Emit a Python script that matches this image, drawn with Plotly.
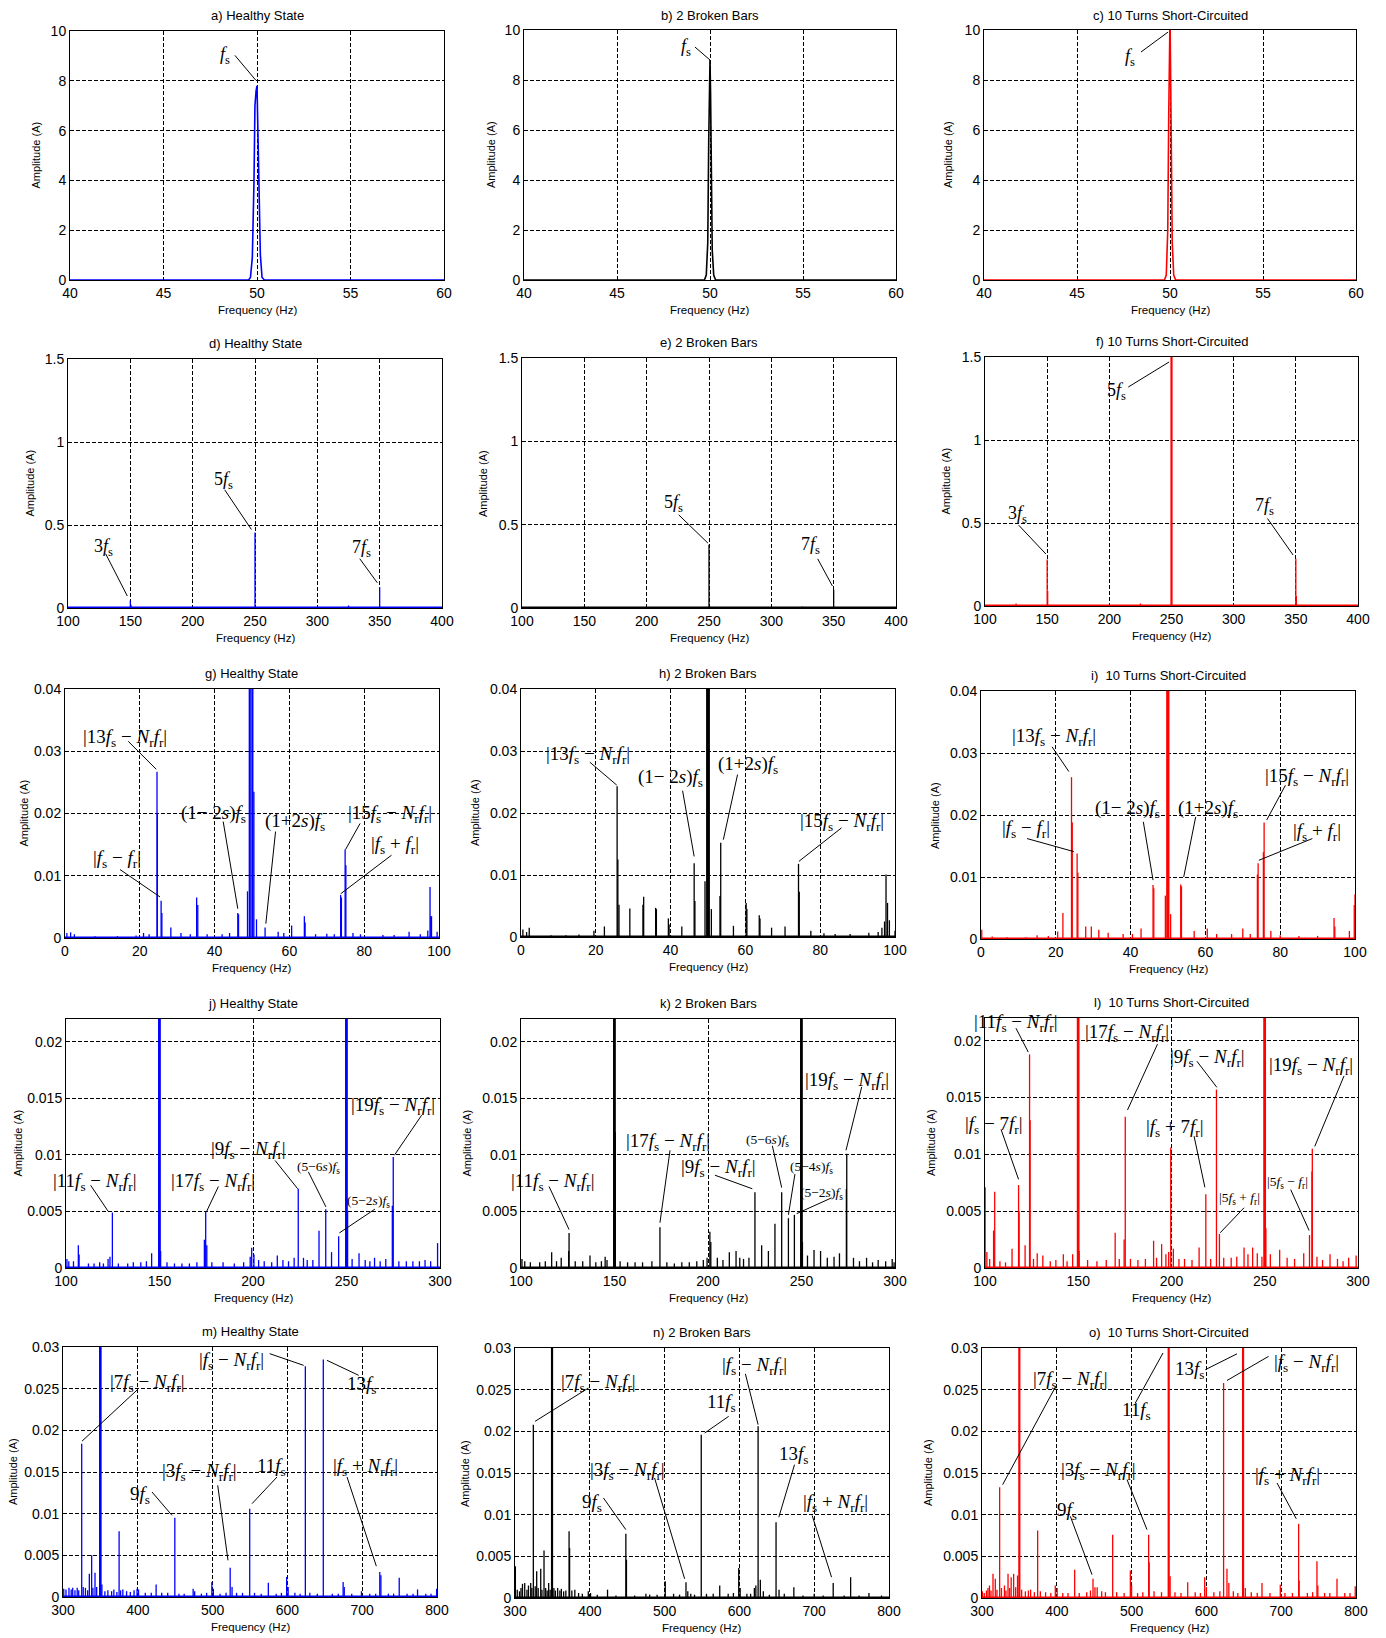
import plotly.graph_objects as go

# ------------------------------------------------------------------ data
a_freq = [40, 49.55, 49.65, 49.75, 49.84, 49.89, 49.95, 50.0, 50.04, 50.1, 50.18, 50.27, 50.4, 60]
a_amp = [0, 0, 0.1, 0.9, 4.0, 7.0, 7.6, 7.8, 6.3, 3.4, 1.0, 0.1, 0, 0]
b_freq = [40, 49.7, 49.8, 49.88, 49.93, 49.97, 50.0, 50.03, 50.07, 50.12, 50.2, 50.3, 60]
b_amp = [0, 0, 0.2, 1.5, 5.5, 7.6, 8.8, 7.5, 4.0, 1.2, 0.2, 0, 0]
c_freq = [40, 49.7, 49.8, 49.88, 49.93, 49.97, 50.0, 50.03, 50.07, 50.12, 50.2, 50.3, 60]
c_amp = [0, 0, 0.2, 2.0, 6.5, 8.7, 10.5, 8.5, 4.5, 1.5, 0.2, 0, 0]

d_peaks = [(125, 0.004), (150, 0.045), (150.5, 0.02), (250, 0.455), (325, 0.015), (350, 0.125)]
e_peaks = [(150, 0.01), (250, 0.38), (325, 0.008), (350, 0.11)]
f_peaks = [(125, 0.015), (150, 0.28), (150.4, 0.09), (225, 0.015), (250, 1.6), (350, 0.285), (350.4, 0.06)]

g_peaks = [(0.5, 0.0008), (1.5, 0.0009), (2.5, 0.0006), (8, 0.0003), (14, 0.0003), (19, 0.0004),
           (21, 0.0008), (22.5, 0.0006), (24.6, 0.0267), (24.7, 0.02), (25.7, 0.006), (25.9, 0.004),
           (28.3, 0.0017), (31, 0.0008), (33.5, 0.0006), (35.2, 0.0065), (35.5, 0.0053), (38, 0.0006),
           (42, 0.0006), (44, 0.0008), (46.2, 0.004), (46.4, 0.0038), (48.8, 0.0075), (49.4, 0.06),
           (50.1, 0.06), (50.5, 0.0235), (51.2, 0.003), (53.5, 0.0017), (57, 0.001), (58.5, 0.0008),
           (60.6, 0.002), (64.0, 0.0035), (64.2, 0.0025), (67, 0.0006), (70, 0.0007), (72, 0.0006),
           (73.7, 0.0069), (73.9, 0.0065), (74.9, 0.0142), (75.1, 0.0117), (77, 0.0008), (79, 0.0006),
           (85, 0.0005), (88, 0.0005), (92, 0.001), (95, 0.0006), (97.0, 0.0012), (97.6, 0.0082),
           (97.8, 0.0035), (98.0, 0.0035), (99.5, 0.001)]
h_peaks = [(0.5, 0.0012), (1.5, 0.0008), (2.2, 0.0015), (8, 0.0003), (12, 0.0003), (15.5, 0.0004),
           (19.5, 0.001), (22.3, 0.0017), (25.7, 0.0243), (25.9, 0.0125), (26.2, 0.0052), (29.1, 0.0046),
           (32.6, 0.0052), (32.8, 0.0065), (36.0, 0.0047), (36.2, 0.0045), (39.4, 0.003), (39.6, 0.002),
           (43, 0.0017), (46.3, 0.0119), (46.5, 0.0058), (49.2, 0.009), (49.8, 0.06), (49.9, 0.06),
           (50.0, 0.06), (50.1, 0.06), (50.2, 0.06), (50.9, 0.0045), (53.2, 0.0066), (53.4, 0.0152),
           (56.8, 0.0018), (60.2, 0.0055), (60.4, 0.0045), (63.7, 0.0035), (63.9, 0.003), (67, 0.0015),
           (70.6, 0.0017), (74.2, 0.0118), (74.4, 0.0073), (77.5, 0.001), (81, 0.0006), (84, 0.0005),
           (88, 0.0005), (93, 0.0007), (95.5, 0.0008), (96.5, 0.0015), (97.2, 0.0025), (97.6, 0.0101),
           (98.0, 0.0055), (98.5, 0.0027), (100, 0.001)]
i_peaks = [(0.2, 0.0015), (3, 0.0004), (7, 0.0003), (12, 0.0003), (15, 0.0006), (18, 0.0005),
           (20.5, 0.0012), (21.9, 0.0042), (24.2, 0.0261), (24.4, 0.0188), (25.7, 0.0138), (25.9, 0.0107),
           (28, 0.002), (29.5, 0.002), (31.5, 0.0015), (34, 0.001), (38, 0.0008), (40.5, 0.0008),
           (42.8, 0.0017), (46.0, 0.0087), (46.2, 0.0082), (49.3, 0.007), (49.8, 0.06), (50.1, 0.06),
           (50.7, 0.004), (53.4, 0.0088), (53.6, 0.0085), (57, 0.0013), (60.5, 0.0017), (63, 0.0008),
           (67, 0.0008), (70, 0.0017), (72, 0.0008), (73.9, 0.0104), (74.1, 0.0122), (75.5, 0.014),
           (75.7, 0.0188), (77.5, 0.0013), (80, 0.0006), (85, 0.0005), (90, 0.0005), (94.4, 0.0034),
           (94.6, 0.002), (98.5, 0.0013), (99.8, 0.0055), (100, 0.0072)]

j_peaks = [(100.5, 0.0008), (101.5, 0.0006), (104, 0.0006), (106.6, 0.002), (107, 0.0012), (112, 0.0004),
           (115, 0.0004), (118, 0.0005), (120, 0.0004), (122.5, 0.0008), (123.5, 0.001), (124.8, 0.0049),
           (128, 0.0004), (133, 0.0004), (136, 0.0005), (140, 0.0005), (143, 0.0006), (145.8, 0.0013),
           (149.8, 0.03), (150.1, 0.03), (150.6, 0.0015), (154, 0.0005), (158, 0.0004), (162, 0.0004),
           (166, 0.0004), (170, 0.0005), (174.0, 0.0025), (174.7, 0.005), (175.3, 0.002), (178, 0.0005),
           (184, 0.0005), (190, 0.0004), (195, 0.0005), (198.5, 0.001), (199.3, 0.0018), (200.5, 0.0012),
           (203, 0.0007), (206, 0.0006), (210, 0.0005), (213, 0.0011), (216, 0.0007), (219, 0.0006),
           (222, 0.0009), (224.2, 0.007), (227, 0.0009), (229, 0.0007), (232, 0.0007), (235.3, 0.0033),
           (238.9, 0.0052), (242, 0.0014), (245.8, 0.0028), (249.8, 0.03), (250.1, 0.03), (250.6, 0.005),
           (253, 0.0008), (256.7, 0.0013), (260, 0.0007), (262.5, 0.0006), (265, 0.0009), (268, 0.0006),
           (271, 0.0008), (274.5, 0.0055), (275.0, 0.0098), (278, 0.0006), (282, 0.0006), (285.5, 0.0006),
           (289, 0.0006), (292, 0.0007), (295, 0.0006), (298.7, 0.0022)]
k_peaks = [(100.5, 0.0008), (102, 0.0006), (105, 0.0005), (110, 0.0005), (113, 0.0006), (116.4, 0.0014),
           (119, 0.0006), (121.5, 0.0009), (125.5, 0.0015), (125.7, 0.0031), (129, 0.0006), (133, 0.0006),
           (136.9, 0.0011), (140, 0.0005), (143, 0.0006), (145, 0.001), (146, 0.0007), (149.8, 0.03),
           (150.1, 0.03), (150.4, 0.012), (153, 0.0006), (157, 0.0005), (161, 0.0005), (165, 0.0005),
           (170, 0.0006), (174.3, 0.0036), (178, 0.0005), (182, 0.0004), (186, 0.0005), (190, 0.0005),
           (194, 0.0006), (197.5, 0.0007), (199.5, 0.0009), (201, 0.0032), (201.5, 0.0023), (205, 0.0009),
           (208, 0.0007), (211.4, 0.0014), (215, 0.0015), (217, 0.0009), (219, 0.0008), (221.9, 0.0009),
           (225.1, 0.0067), (228.7, 0.002), (232.3, 0.0015), (235.8, 0.0039), (239.4, 0.0067), (243, 0.0044),
           (246.2, 0.0047), (249.8, 0.03), (250.1, 0.03), (250.5, 0.0023), (253.2, 0.0011), (256.7, 0.0016),
           (260.2, 0.0015), (263.8, 0.0009), (267.4, 0.001), (270.3, 0.0013), (274.0, 0.007), (274.2, 0.0101),
           (277.8, 0.0009), (281, 0.0006), (284.8, 0.0009), (288, 0.0005), (291, 0.0007), (295, 0.0006),
           (298.5, 0.0008), (299.5, 0.0005)]
l_peaks = [(100.1, 0.0071), (101, 0.0014), (102.5, 0.0008), (104.6, 0.0033), (105.2, 0.0067), (108, 0.0006),
           (111, 0.0005), (114.5, 0.0017), (118, 0.0073), (118.3, 0.005), (121.5, 0.002), (123.9, 0.0188),
           (124.2, 0.013), (126, 0.0008), (128, 0.0013), (131, 0.0011), (135, 0.0006), (138, 0.0007),
           (142, 0.0012), (144, 0.0006), (147, 0.0012), (149.8, 0.03), (150.1, 0.03), (150.5, 0.0015),
           (155, 0.0007), (160, 0.0006), (165, 0.0007), (169.8, 0.0031), (172, 0.0008), (174.6, 0.0025),
           (175.2, 0.0133), (178, 0.0008), (182, 0.0007), (186, 0.0008), (190.4, 0.0024), (192, 0.0009),
           (194.7, 0.0021), (197, 0.0012), (198.5, 0.0014), (199.6, 0.0106), (201, 0.0017), (204, 0.0008),
           (207, 0.0008), (211, 0.0007), (214.8, 0.0018), (218.4, 0.0065), (221, 0.0008), (224.1, 0.0157),
           (225.7, 0.003), (228, 0.0009), (232, 0.0009), (235, 0.001), (238.9, 0.0018), (241, 0.0012),
           (243.5, 0.0018), (246, 0.0013), (248.5, 0.001), (249.8, 0.03), (250.1, 0.03), (250.6, 0.0035),
           (253, 0.0012), (258, 0.0016), (262, 0.0009), (266, 0.0008), (270.9, 0.0013), (274.0, 0.0029),
           (275.3, 0.0085), (275.5, 0.0105), (278, 0.001), (281, 0.0007), (285, 0.0012), (289, 0.0008),
           (292, 0.0006), (295, 0.0009), (299, 0.0011)]

m_peaks = [(301, 0.001), (304, 0.0009), (308, 0.0011), (311, 0.0009), (313, 0.0011), (316, 0.0008),
           (319, 0.0011), (321, 0.0008), (325, 0.0184), (327, 0.0012), (330, 0.0011), (333, 0.0008),
           (335.2, 0.0028), (338.3, 0.005), (340, 0.0011), (342.8, 0.0029), (345, 0.0012), (349.6, 0.032),
           (350.1, 0.032), (352, 0.0015), (356, 0.0007), (360, 0.0008), (365, 0.0007), (368, 0.0009),
           (372, 0.0006), (375, 0.0079), (377, 0.0008), (380, 0.0009), (385, 0.0007), (390, 0.0006),
           (395, 0.0008), (399, 0.001), (401, 0.0009), (410, 0.0005), (418, 0.0005), (424.5, 0.0015),
           (432, 0.0005), (440, 0.0005), (449.5, 0.0095), (455, 0.0004), (462, 0.0004), (474, 0.001),
           (476, 0.0007), (485, 0.0004), (492, 0.0005), (499, 0.0018), (501, 0.001), (510, 0.0004),
           (518, 0.0005), (523.5, 0.0035), (526, 0.0012), (532, 0.0005), (540, 0.0005), (549.6, 0.0106),
           (556, 0.0005), (565, 0.0004), (574.5, 0.0017), (585, 0.0004), (592, 0.0005), (599, 0.0024),
           (601, 0.0012), (610, 0.0005), (617, 0.0004), (624, 0.0277), (630, 0.0005), (640, 0.0004),
           (648, 0.0285), (660, 0.0004), (668, 0.0004), (674.5, 0.0018), (676, 0.0012), (686, 0.0004),
           (699, 0.0007), (710, 0.0004), (718, 0.0004), (723.5, 0.003), (725, 0.0026), (735, 0.0004),
           (742, 0.0004), (749.5, 0.0023), (760, 0.0004), (768, 0.0004), (774, 0.0009), (785, 0.0004),
           (792, 0.0004), (799.5, 0.001)]
n_peaks = [(300.5, 0.0038), (303, 0.001), (306, 0.0008), (308, 0.0012), (310, 0.0017), (313, 0.0018),
           (316, 0.001), (318, 0.0015), (321, 0.0018), (322.5, 0.0012), (324.5, 0.0208), (327, 0.0014),
           (329, 0.0032), (331, 0.0012), (334.4, 0.0035), (336, 0.001), (338.8, 0.0057), (341, 0.0012),
           (343, 0.0009), (345, 0.0018), (347, 0.001), (349.5, 0.032), (352, 0.0012), (354, 0.0009),
           (357, 0.0012), (360, 0.0009), (362, 0.0011), (365, 0.0008), (368, 0.0009), (372.3, 0.008),
           (373, 0.006), (376, 0.0009), (380, 0.001), (385, 0.0006), (390, 0.0005), (398, 0.0008),
           (401, 0.0006), (410, 0.0004), (423.7, 0.001), (435, 0.0003), (448.2, 0.0077), (449, 0.0046),
           (460, 0.0003), (475, 0.0005), (480, 0.0004), (490, 0.0004), (500.9, 0.002), (512, 0.0005),
           (520, 0.0004), (528.6, 0.0019), (531, 0.0008), (535, 0.0005), (540, 0.0004), (549, 0.0196),
           (556, 0.0005), (565, 0.0005), (573.7, 0.0015), (585, 0.0005), (592, 0.0006), (599.1, 0.0036),
           (601, 0.0012), (610, 0.0005), (615, 0.0005), (620, 0.0012), (622, 0.0015), (625, 0.0206),
           (628, 0.0022), (632, 0.0008), (640, 0.0004), (649, 0.0091), (653, 0.001), (660, 0.0005),
           (672.8, 0.0013), (685, 0.0003), (700, 0.0005), (712, 0.0003), (725.4, 0.0018), (740, 0.0003),
           (748.7, 0.0025), (760, 0.0003), (773.2, 0.0006), (790, 0.0003)]
o_peaks = [(300.5, 0.0008), (303, 0.0006), (306, 0.0009), (308, 0.0012), (310, 0.0015), (312, 0.0009),
           (314.7, 0.0029), (317.8, 0.0023), (320, 0.001), (323.6, 0.0133), (326, 0.0012), (330, 0.0015),
           (332, 0.0009), (334.8, 0.0029), (337, 0.0012), (339, 0.0025), (342.3, 0.0029), (345, 0.0013),
           (347.5, 0.0027), (349.9, 0.032), (353, 0.001), (358, 0.0008), (362, 0.0009), (365, 0.001),
           (370, 0.0007), (374.4, 0.0081), (378, 0.0008), (385, 0.0007), (392, 0.0006), (398, 0.0015),
           (400.5, 0.0012), (408, 0.0006), (415, 0.0006), (423.9, 0.0034), (430, 0.0006), (440, 0.0007),
           (445, 0.0009), (448.4, 0.0023), (451, 0.0013), (454, 0.0013), (460, 0.0008), (465, 0.0007),
           (474.7, 0.0076), (480, 0.0007), (490, 0.0006), (498.3, 0.0033), (500, 0.0015), (508, 0.0006),
           (515, 0.0007), (522.8, 0.0076), (523.5, 0.0043), (530, 0.0008), (540, 0.0007), (549.6, 0.032),
           (551.5, 0.0026), (558, 0.0007), (566, 0.0006), (575, 0.0019), (585, 0.0007), (592, 0.0006),
           (597.7, 0.0025), (600, 0.0013), (610, 0.0007), (618, 0.0008), (623, 0.0258), (627.5, 0.0035),
           (630, 0.0018), (636, 0.0008), (642, 0.0006), (649, 0.032), (652, 0.0012), (660, 0.0007),
           (668, 0.0006), (674.3, 0.0018), (685, 0.0006), (698.8, 0.0016), (705, 0.0006), (715, 0.0006),
           (723.3, 0.0089), (724, 0.0021), (735, 0.0006), (742, 0.0007), (747.8, 0.0044), (749, 0.0015),
           (758, 0.0006), (765, 0.0006), (774.6, 0.0023), (785, 0.0006), (792, 0.0006), (799, 0.0014)]

row1_xticks = [40, 45, 50, 55, 60]
row1_yticks = [0, 2, 4, 6, 8, 10]
row2_xticks = [100, 150, 200, 250, 300, 350, 400]
row2_yticks = [0, 0.5, 1, 1.5]
row2_ytext = ["0", "0.5", "1", "1.5"]
row3_xticks = [0, 20, 40, 60, 80, 100]
row3_yticks = [0, 0.01, 0.02, 0.03, 0.04]
row3_ytext = ["0", "0.01", "0.02", "0.03", "0.04"]
row4_xticks = [100, 150, 200, 250, 300]
row4_yticks = [0, 0.005, 0.01, 0.015, 0.02]
row4_ytext = ["0", "0.005", "0.01", "0.015", "0.02"]
row5_xticks = [300, 400, 500, 600, 700, 800]
row5_yticks = [0, 0.005, 0.01, 0.015, 0.02, 0.025, 0.03]
row5_ytext = ["0", "0.005", "0.01", "0.015", "0.02", "0.025", "0.03"]

titles = {
    "a": "a) Healthy State", "b": "b) 2 Broken Bars", "c": "c) 10 Turns Short-Circuited",
    "d": "d) Healthy State", "e": "e) 2 Broken Bars", "f": "f) 10 Turns Short-Circuited",
    "g": "g) Healthy State", "h": "h) 2 Broken Bars", "i": "i)\u00a0 10 Turns Short-Circuited",
    "j": "j) Healthy State", "k": "k) 2 Broken Bars", "l": "l)\u00a0 10 Turns Short-Circuited",
    "m": "m) Healthy State", "n": "n) 2 Broken Bars", "o": "o)\u00a0 10 Turns Short-Circuited",
}

# ------------------------------------------------------------------ styling / layout
W, H = 1386, 1638
PAGE_OFF = 8  # the page body margin shifts the figure by this many pixels
BLUE, BLACK, RED = "#0000FF", "#000000", "#FF0000"
colors = {}
for r in ["abc", "def", "ghi", "jkl", "mno"]:
    colors[r[0]], colors[r[1]], colors[r[2]] = BLUE, BLACK, RED

# target screen rectangles (left, right, top, bottom) in px
POS = {
    "a": (70, 444, 31, 280), "b": (524, 896, 30, 280), "c": (984, 1356, 30, 280),
    "d": (68, 442, 359, 608), "e": (522, 896, 358, 608), "f": (985, 1358, 357, 606),
    "g": (65, 439, 689, 938), "h": (521, 895, 689, 937), "i": (981, 1355, 691, 939),
    "j": (66, 440, 1019, 1268), "k": (521, 895, 1019, 1268), "l": (985, 1358, 1018, 1268),
    "m": (63, 437, 1347, 1597), "n": (515, 889, 1348, 1598), "o": (982, 1356, 1348, 1598),
}
TITLE_GAP = {k: 16 for k in POS}
TITLE_GAP.update({"a": 15, "b": 14, "c": 14})
YTITLE_OFF = {"a": 34, "b": 33, "c": 36, "d": 39, "e": 39, "f": 40, "g": 42, "h": 46, "i": 46,
              "j": 49, "k": 55, "l": 54, "m": 50, "n": 50, "o": 54}

ROWS = {
    1: dict(xr=[40, 60], yr=[0, 10], xt=row1_xticks, yt=row1_yticks,
            ytt=[str(v) for v in row1_yticks]),
    2: dict(xr=[100, 400], yr=[0, 1.5], xt=row2_xticks, yt=row2_yticks, ytt=row2_ytext),
    3: dict(xr=[0, 100], yr=[0, 0.04], xt=row3_xticks, yt=row3_yticks, ytt=row3_ytext),
    4: dict(xr=[100, 300], yr=[0, 0.022], xt=row4_xticks, yt=row4_yticks, ytt=row4_ytext),
    5: dict(xr=[300, 800], yr=[0, 0.03], xt=row5_xticks, yt=row5_yticks, ytt=row5_ytext),
}

LINES = {"a": (a_freq, a_amp), "b": (b_freq, b_amp), "c": (c_freq, c_amp)}
PEAKS = {"d": d_peaks, "e": e_peaks, "f": f_peaks, "g": g_peaks, "h": h_peaks, "i": i_peaks,
         "j": j_peaks, "k": k_peaks, "l": l_peaks, "m": m_peaks, "n": n_peaks, "o": o_peaks}

FS = "<i>f</i><sub>s</sub>"
FR = "<i>f</i><sub>r</sub>"
NR = "<i>N</i><sub>r</sub>"


def absn(k):
    return f"|{k}{FS} \u2212 {NR}{FR}|"


S1M2 = f"(1\u2212 2<i>s</i>){FS}"
S1P2 = f"(1+2<i>s</i>){FS}"
FSMFR = f"|{FS} \u2212 {FR}|"
FSPFR = f"|{FS} + {FR}|"
FSMNR = f"|{FS} \u2212 {NR}{FR}|"
FSPNR = f"|{FS} + {NR}{FR}|"


def s5(k):
    return f"(5\u2212{k}<i>s</i>){FS}"


BIG, MID, SMALL = 19, 18, 13.5
LABELS = {
    "a": [(FS, 48.28, 9.02, MID, 48.82, 9.02, 49.94, 8.02)],
    "b": [(FS, 48.7, 9.3, MID, 49.19, 9.32, 50.0, 8.8)],
    "c": [(FS, 47.85, 8.9, MID, 48.44, 9.12, 49.9, 9.92)],
    "d": [("3" + FS, 128.1, 0.367, MID, 130.2, 0.327, 147.6, 0.072),
          ("5" + FS, 224.9, 0.768, MID, 225.7, 0.712, 247.1, 0.473),
          ("7" + FS, 335.3, 0.357, MID, 334.0, 0.297, 348.1, 0.152)],
    "e": [("5" + FS, 221.5, 0.628, MID, 225.7, 0.559, 249.2, 0.389),
          ("7" + FS, 331.3, 0.377, MID, 337.2, 0.295, 349.0, 0.132)],
    "f": [("5" + FS, 206.1, 1.295, MID, 215.2, 1.319, 248.1, 1.47),
          ("3" + FS, 126.3, 0.553, MID, 127.1, 0.487, 149.0, 0.313),
          ("7" + FS, 324.5, 0.598, MID, 327.2, 0.527, 347.8, 0.307)],
    "g": [(absn(13), 16.1, 0.0322, BIG, 16.9, 0.0316, 24.4, 0.0271),
          (FSMFR, 13.8, 0.0127, BIG, 14.7, 0.011, 25.4, 0.0066),
          (S1M2, 39.8, 0.020, BIG, 42.3, 0.0187, 46.2, 0.0047),
          (S1P2, 61.5, 0.0187, BIG, 56.3, 0.0171, 53.7, 0.0023),
          (absn(15), 86.9, 0.020, BIG, 78.9, 0.0184, 75.0, 0.0142),
          (FSPFR, 88.2, 0.0150, BIG, 87.3, 0.0133, 73.7, 0.0071)],
    "h": [(absn(13), 17.8, 0.0294, BIG, 18.4, 0.0282, 25.6, 0.0245),
          (S1M2, 40.1, 0.0256, BIG, 43.2, 0.0236, 46.3, 0.013),
          (S1P2, 60.6, 0.0278, BIG, 57.9, 0.0262, 54.1, 0.0157),
          (absn(15), 85.7, 0.0186, BIG, 85.7, 0.0176, 74.3, 0.0122)],
    "i": [(absn(13), 19.6, 0.0326, BIG, 19.0, 0.031, 23.5, 0.027),
          (FSMFR, 12.1, 0.0178, BIG, 12.3, 0.0162, 24.8, 0.0141),
          (S1M2, 39.1, 0.0210, BIG, 43.4, 0.0189, 46.0, 0.0095),
          (S1P2, 60.7, 0.0210, BIG, 57.4, 0.0197, 54.2, 0.0100),
          (absn(15), 87.2, 0.0261, BIG, 81.4, 0.0248, 76.4, 0.0192),
          (FSPFR, 89.9, 0.0172, BIG, 88.6, 0.0162, 74.3, 0.0127)],
    "j": [(absn(11), 115.5, 0.0076, BIG, 113.2, 0.0073, 122.6, 0.0050),
          (absn(17), 178.8, 0.0076, BIG, 181.5, 0.0072, 175.2, 0.0050),
          (absn(9), 197.5, 0.0104, BIG, 211.8, 0.0095, 223.9, 0.0070),
          (s5(6), 234.9, 0.0089, SMALL, 229.6, 0.0085, 239.0, 0.0054),
          (s5(2), 261.7, 0.0059, SMALL, 265.2, 0.0052, 246.2, 0.0031),
          (absn(19), 275.0, 0.0143, BIG, 290.2, 0.0135, 275.6, 0.00996)],
    "k": [(absn(11), 116.8, 0.0076, BIG, 115.0, 0.0072, 125.7, 0.0034),
          (absn(17), 178.8, 0.0111, BIG, 179.7, 0.0104, 174.3, 0.0040),
          (absn(9), 205.5, 0.0088, BIG, 203.7, 0.0082, 223.7, 0.0070),
          (s5(6), 231.7, 0.0113, SMALL, 234.4, 0.0108, 239.4, 0.0071),
          (s5(4), 255.1, 0.0089, SMALL, 246.5, 0.0083, 243.0, 0.0047),
          (s5(2), 260.8, 0.0066, SMALL, 266.1, 0.0062, 247.4, 0.0048),
          (absn(19), 274.2, 0.0165, BIG, 282.2, 0.0160, 273.8, 0.0104)],
    "l": [(absn(11), 116.6, 0.0216, BIG, 116.6, 0.0211, 123.2, 0.0190),
          (absn(17), 176.4, 0.0207, BIG, 192.5, 0.0197, 176.4, 0.0139),
          (absn(9), 219.3, 0.0185, BIG, 213.6, 0.0182, 224.3, 0.0159),
          (absn(19), 274.6, 0.0178, BIG, 292.5, 0.0169, 276.8, 0.0107),
          (f"|{FS} \u2212 7{FR}|", 104.6, 0.0126, BIG, 108.6, 0.0122, 118.0, 0.0078),
          (f"|{FS} + 7{FR}|", 201.8, 0.0123, BIG, 212.1, 0.0116, 217.9, 0.0071),
          (f"|5{FS} + {FR}|", 236.3, 0.0061, SMALL, 238.9, 0.0053, 226.1, 0.0031),
          (f"|5{FS} \u2212 {FR}|", 262.1, 0.0075, SMALL, 263.9, 0.0069, 273.8, 0.0033)],
    "m": [(f"|7{FS} \u2212 {NR}{FR}|", 412.3, 0.0257, BIG, 399.8, 0.0249, 325.4, 0.0187),
          (FSMNR, 525.9, 0.0283, BIG, 576.3, 0.0292, 621.7, 0.0278),
          ("13" + FS, 699.7, 0.0254, BIG, 652.9, 0.0284, 695.3, 0.0266),
          ("9" + FS, 402.5, 0.0122, BIG, 419.0, 0.0126, 445.7, 0.0098),
          (absn(3), 482.7, 0.0150, BIG, 506.8, 0.0134, 520.6, 0.0044),
          ("11" + FS, 579.4, 0.0156, BIG, 586.1, 0.0144, 552.7, 0.0112),
          (FSPNR, 704.2, 0.0156, BIG, 679.7, 0.0144, 718.9, 0.0037)],
    "n": [(f"|7{FS} \u2212 {NR}{FR}|", 411.6, 0.0258, BIG, 398.2, 0.0252, 326.8, 0.0212),
          (FSMNR, 620.5, 0.0279, BIG, 608.0, 0.0269, 625.0, 0.0208),
          ("11" + FS, 575.9, 0.0234, BIG, 585.7, 0.0218, 553.6, 0.0198),
          ("13" + FS, 672.8, 0.0172, BIG, 673.7, 0.0160, 652.7, 0.0097),
          (absn(3), 450.4, 0.0152, BIG, 486.6, 0.0144, 526.8, 0.0023),
          ("9" + FS, 403.6, 0.0114, BIG, 418.3, 0.0120, 448.2, 0.0082),
          (FSPNR, 728.6, 0.0114, BIG, 697.3, 0.0099, 723.2, 0.0025)],
    "o": [(f"|7{FS} \u2212 {NR}{FR}|", 418.1, 0.0262, BIG, 398.0, 0.0253, 327.6, 0.0136),
          ("11" + FS, 507.2, 0.0224, BIG, 505.0, 0.0234, 542.0, 0.0294),
          ("13" + FS, 577.2, 0.0274, BIG, 598.6, 0.0274, 640.9, 0.0293),
          (FSMNR, 733.6, 0.0282, BIG, 683.2, 0.0290, 627.5, 0.0261),
          (absn(3), 456.0, 0.0152, BIG, 493.9, 0.0142, 520.6, 0.0082),
          ("9" + FS, 413.6, 0.0104, BIG, 418.1, 0.0098, 447.1, 0.0028),
          (FSPNR, 707.8, 0.0146, BIG, 694.4, 0.0138, 720.2, 0.0095)],
}

SANS = "Liberation Sans, Arial, sans-serif"
SERIF = "Liberation Serif, Times New Roman, serif"

fig = go.Figure()
annotations = []
shapes = []
order = "abcdefghijklmno"

for idx, key in enumerate(order):
    n = idx + 1
    row = idx // 3 + 1
    cfg = ROWS[row]
    xa = "x" if n == 1 else f"x{n}"
    ya = "y" if n == 1 else f"y{n}"
    l, r, t, b = [v - PAGE_OFF for v in POS[key]]
    xdom = [l / W, r / W]
    ydom = [1 - b / H, 1 - t / H]
    col = colors[key]

    axis_common = dict(showline=True, mirror=True, linecolor="black", linewidth=1,
                       showgrid=True, gridcolor="black", griddash="4px,2px", gridwidth=1,
                       zeroline=False, ticks="", layer="below traces", automargin=False,
                       tickfont=dict(family=SANS, size=14, color="black"))
    fig.layout[f"xaxis{n}"] = dict(domain=xdom, anchor=ya, range=cfg["xr"], tickvals=cfg["xt"],
                                   ticktext=[str(v) for v in cfg["xt"]], **axis_common)
    fig.layout[f"yaxis{n}"] = dict(domain=ydom, anchor=xa, range=cfg["yr"], tickvals=cfg["yt"],
                                   ticktext=cfg["ytt"], **axis_common)

    if key in LINES:
        fx, fy = LINES[key]
        fig.add_trace(go.Scatter(x=fx, y=fy, mode="lines", line=dict(color=col, width=1.6),
                                 xaxis=xa, yaxis=ya, showlegend=False, hoverinfo="skip"))
    else:
        ytop = cfg["yr"][1]
        thin_x, thin_y, thick_x, thick_y = [], [], [], []
        for f, a in PEAKS[key]:
            if a >= ytop:
                thick_x += [f, f, None]
                thick_y += [0, a, None]
            else:
                thin_x += [f, f, None]
                thin_y += [0, a, None]
        fig.add_trace(go.Scatter(x=cfg["xr"], y=[0, 0], mode="lines", line=dict(color=col, width=3),
                                 xaxis=xa, yaxis=ya, showlegend=False, hoverinfo="skip"))
        fig.add_trace(go.Scatter(x=thin_x, y=thin_y, mode="lines", line=dict(color=col, width=1.3),
                                 xaxis=xa, yaxis=ya, showlegend=False, hoverinfo="skip"))
        if thick_x:
            fig.add_trace(go.Scatter(x=thick_x, y=thick_y, mode="lines",
                                     line=dict(color=col, width=2.2),
                                     xaxis=xa, yaxis=ya, showlegend=False, hoverinfo="skip"))

    cx = (l + r) / 2 / W
    annotations.append(dict(text=titles[key], xref="paper", yref="paper", x=cx, y=ydom[1],
                            yshift=TITLE_GAP[key], xanchor="center", yanchor="middle",
                            showarrow=False, font=dict(family=SANS, size=13, color="black")))
    annotations.append(dict(text="Frequency (Hz)", xref="paper", yref="paper", x=cx, y=ydom[0],
                            yshift=-30, xanchor="center", yanchor="middle", showarrow=False,
                            font=dict(family=SANS, size=11.5, color="black")))
    annotations.append(dict(text="Amplitude (A)", xref="paper", yref="paper",
                            x=(l - YTITLE_OFF[key]) / W, y=(ydom[0] + ydom[1]) / 2,
                            xanchor="center", yanchor="middle", textangle=-90, showarrow=False,
                            font=dict(family=SANS, size=11, color="black")))
    for (txt, tx, ty, fsz, x0, y0, x1, y1) in LABELS.get(key, []):
        annotations.append(dict(text=txt, xref=xa, yref=ya, x=tx, y=ty, showarrow=False,
                                xanchor="center", yanchor="middle",
                                font=dict(family=SERIF, size=fsz, color="black")))
        shapes.append(dict(type="line", xref=xa, yref=ya, x0=x0, y0=y0, x1=x1, y1=y1,
                           line=dict(color="black", width=1)))

fig.update_layout(width=W, height=H, autosize=False,
                  margin=dict(l=0, r=0, t=0, b=0, pad=0, autoexpand=False),
                  paper_bgcolor="white", plot_bgcolor="white", showlegend=False,
                  annotations=annotations, shapes=shapes)

fig.write_html("out.html")
